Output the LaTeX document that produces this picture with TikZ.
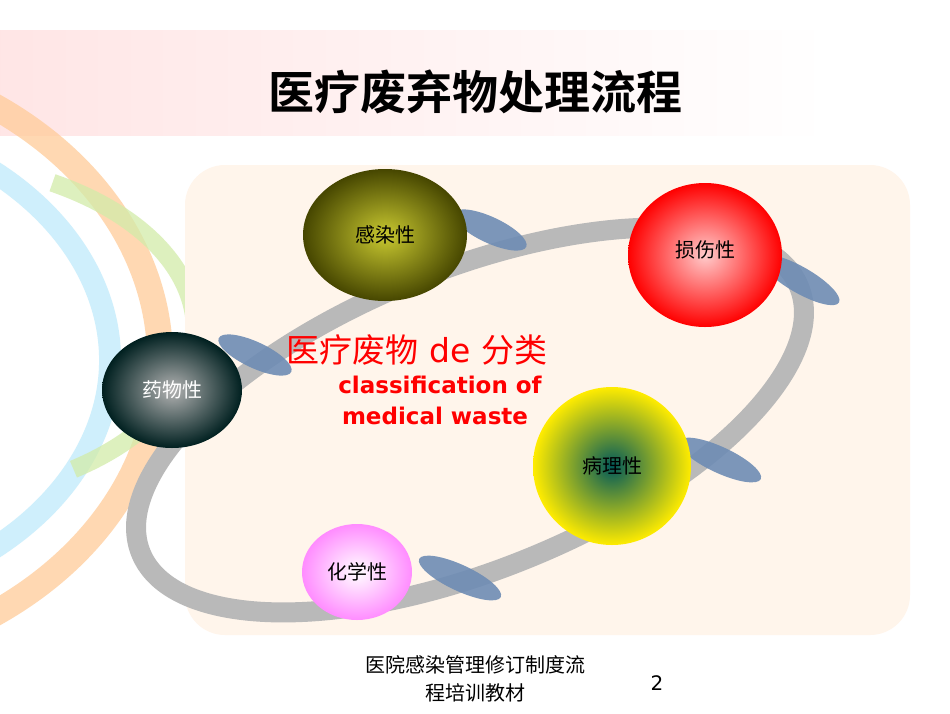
\documentclass[tikz,border=0pt]{standalone}
\usepackage{fontspec}
\setmainfont{DejaVu Sans}
\newfontfamily\cjk{Noto Sans CJK SC}
\newfontfamily\cjkb{Noto Sans CJK SC Bold}
\definecolor{leafc}{RGB}{110,140,180}
\begin{document}
\begin{tikzpicture}[x=1pt,y=-1pt,
  lbl/.style={font=\cjk\fontsize{20}{24}\selectfont},
  leaf/.style={fill=leafc,opacity=0.9}]
\useasboundingbox (0,0) rectangle (950,713);
\fill[white] (0,0) rectangle (950,713);
% banner
\shade[left color=pink!40!white,right color=white] (0,30) rectangle (830,135);
% left decorations
\draw[orange!40,line width=26,opacity=0.75] (-230,360) ++(-70:390 and 310) arc[start angle=-70,end angle=70,x radius=390,y radius=310];
\draw[cyan!25,line width=22,opacity=0.75] (-230,360) ++(-65:340 and 250) arc[start angle=-65,end angle=65,x radius=340,y radius=250];
\draw[yellow!50!green!35,line width=18,opacity=0.75] (-90,330) ++(-60:285 and 170) arc[start angle=-60,end angle=55,x radius=285,y radius=170];
\node[font=\cjkb\fontsize{46}{52}\selectfont] (title) at (475,92) {医疗废弃物处理流程};
% background panel
\fill[orange!8,rounded corners=40] (185,165) rectangle (910,635);
% ring
\draw[gray!55,line width=20,rotate around={22:(470,420)}] (470,420) ellipse[x radius=355,y radius=150];
% leaves
\fill[leaf,rotate around={-25:(490,230)}] (490,230) ellipse[x radius=40,y radius=13];
\fill[leaf,rotate around={-30:(800,280)}] (800,280) ellipse[x radius=45,y radius=13];
\fill[leaf,rotate around={-25:(255,355)}] (255,355) ellipse[x radius=40,y radius=13];
\fill[leaf,rotate around={-25:(720,460)}] (720,460) ellipse[x radius=45,y radius=13];
\fill[leaf,rotate around={-25:(460,578)}] (460,578) ellipse[x radius=45,y radius=13];
% balls
\shade[inner color=yellow!30!olive!60,outer color=olive!55!black] (385,235) ellipse[x radius=82,y radius=66];
\node[lbl] (b1) at (385,235) {感染性};
\shade[inner color=red!20!white,outer color=red] (705,255) ellipse[x radius=77,y radius=72];
\node[lbl] (b2) at (705,250) {损伤性};
\shade[inner color=gray!60,outer color=black!75!teal] (172,390) ellipse[x radius=70,y radius=58];
\node[lbl,white] (b3) at (172,390) {药物性};
\shade[inner color=teal!70!black,outer color=yellow!85!orange] (612,466) ellipse[x radius=79,y radius=79];
\node[lbl] (b4) at (612,466) {病理性};
\shade[inner color=white,outer color=magenta!45] (357,572) ellipse[x radius=55,y radius=48];
\node[lbl] (b5) at (357,572) {化学性};
% center text
\node[red,font=\fontsize{33}{38}\selectfont] (c1) at (417,350) {{\cjk 医疗废物} de {\cjk 分类}};
\node[red,font=\bfseries\fontsize{23}{27}\selectfont] (c2) at (440,385) {classification of};
\node[red,font=\bfseries\fontsize{23}{27}\selectfont] (c3) at (435,416) {medical waste};
% footer
\node[font=\cjk\fontsize{20}{24}\selectfont] (f1) at (475,665) {医院感染管理修订制度流};
\node[font=\cjk\fontsize{20}{24}\selectfont] (f2) at (475,693) {程培训教材};
\node[font=\fontsize{20}{24}\selectfont] (pg) at (657,683) {2};
\end{tikzpicture}
\end{document}
